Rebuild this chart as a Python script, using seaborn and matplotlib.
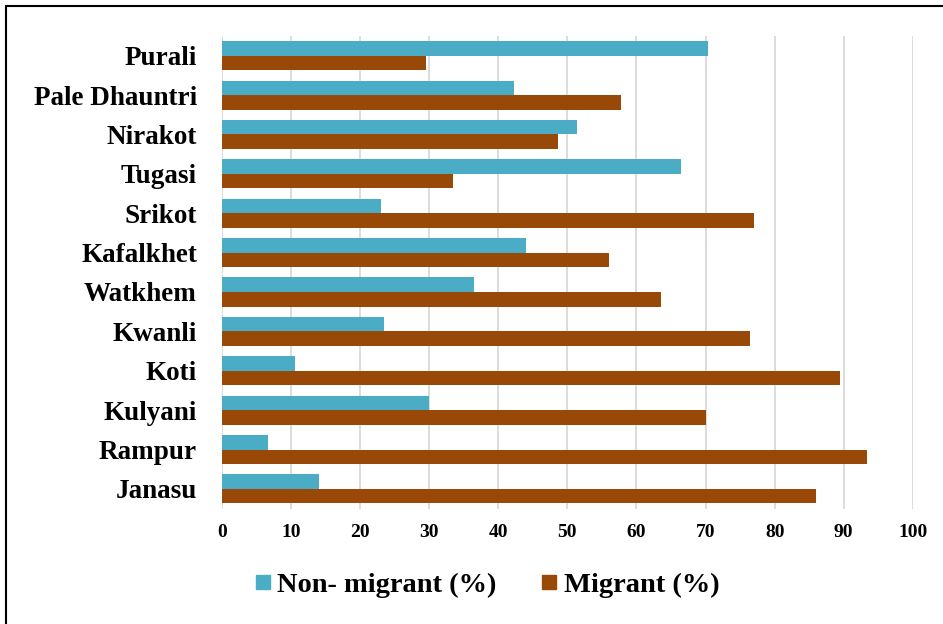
import matplotlib
matplotlib.use("Agg")
import matplotlib.pyplot as plt
import seaborn as sns
import pandas as pd
from matplotlib.lines import Line2D

villages = ["Purali", "Pale Dhauntri", "Nirakot", "Tugasi", "Srikot", "Kafalkhet",
            "Watkhem", "Kwanli", "Koti", "Kulyani", "Rampur", "Janasu"]
non_migrant = [70.4, 42.3, 51.4, 66.5, 23.0, 44.0, 36.5, 23.5, 10.6, 30.0, 6.7, 14.0]
migrant = [29.6, 57.7, 48.6, 33.5, 77.0, 56.0, 63.5, 76.5, 89.4, 70.0, 93.3, 86.0]
series = ["Non- migrant (%)", "Migrant (%)"]
xticks = [0, 10, 20, 30, 40, 50, 60, 70, 80, 90, 100]

df = pd.DataFrame({
    "Village": villages * 2,
    "Value": non_migrant + migrant,
    "Series": [series[0]] * len(villages) + [series[1]] * len(villages),
})

sns.set_style("white")
plt.rcParams["font.family"] = ["Liberation Serif", "DejaVu Serif"]
plt.rcParams["text.color"] = "black"
plt.rcParams["xtick.color"] = "black"
plt.rcParams["ytick.color"] = "black"

colors = ["#4BACC6", "#984807"]
fig = plt.figure(figsize=(9.43, 6.24), dpi=100)
ax = fig.add_axes([222 / 943, 1 - 508.6 / 624, (913.5 - 222) / 943, (508.6 - 36) / 624])

sns.barplot(data=df, y="Village", x="Value", hue="Series", palette=colors,
            order=villages, hue_order=series, orient="h", width=0.74,
            saturation=1, ax=ax, legend=False, edgecolor="none")

ax.set_xlim(0, 100.1)
ax.set_xticks(xticks)
ax.set_xticklabels([str(t) for t in xticks], fontsize=14, fontweight="bold", color="black")
ax.set_yticklabels(villages, fontsize=19.5, fontweight="bold", color="black")
ax.set_xlabel("")
ax.set_ylabel("")
ax.xaxis.grid(True, color="#d9d9d9", linewidth=1.3)
ax.set_axisbelow(True)
for s in ax.spines.values():
    s.set_visible(False)
ax.tick_params(axis="y", length=0, pad=18)
ax.tick_params(axis="x", length=0, pad=11)

handles = [Line2D([0], [0], marker="s", linestyle="none", markersize=9.5,
                  markerfacecolor=c, markeredgecolor=c) for c in colors]
leg = fig.legend(handles, series, loc="center", bbox_to_anchor=(487.5 / 943, 1 - 585 / 624),
                 ncol=2, frameon=False, prop={"size": 20.5, "weight": "bold"},
                 handletextpad=0.25, columnspacing=1.6, handlelength=0.5)
for t in leg.get_texts():
    t.set_color("black")

fig.add_artist(Line2D([6 / 943, 6 / 943], [0, 1 - 6 / 624], transform=fig.transFigure,
                      color="black", linewidth=1.5))
fig.add_artist(Line2D([6 / 943, 1], [1 - 6 / 624, 1 - 6 / 624], transform=fig.transFigure,
                      color="black", linewidth=1.5))

fig.savefig("out.png", dpi=100)
